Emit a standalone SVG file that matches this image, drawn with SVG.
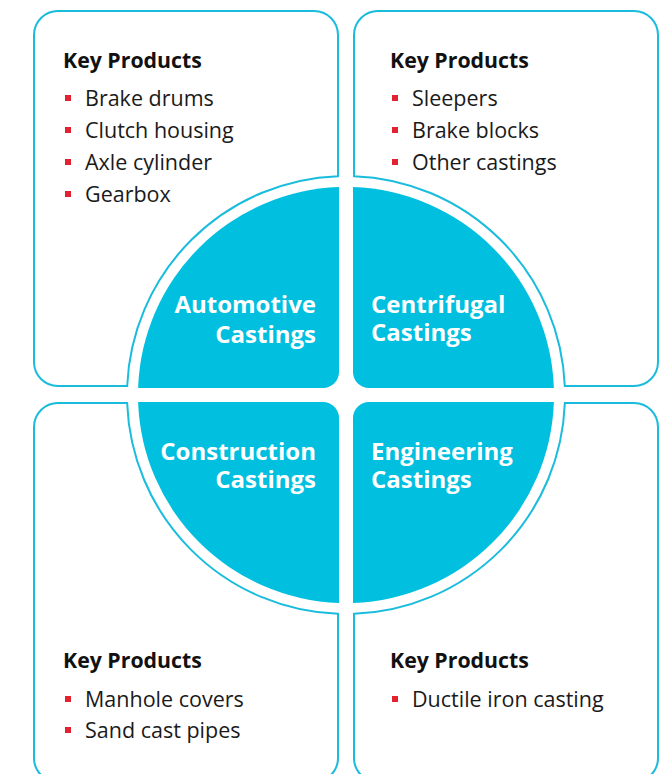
<svg xmlns="http://www.w3.org/2000/svg" width="665" height="774" viewBox="0 0 665 774">
<style>
.box{fill:#fff;stroke:#1ABCDD;stroke-width:2}
.q{fill:#00BFDF}
.hd{font-family:"Open Sans","Liberation Sans",sans-serif;font-weight:700;font-size:21.3px;fill:#111}
.it{font-family:"Open Sans","Liberation Sans",sans-serif;font-size:21.5px;fill:#1a1a1a}
.lb{font-family:"Open Sans","Liberation Sans",sans-serif;font-weight:700;font-size:24px;fill:#fff}
.bl{fill:#E2232F}
</style>
<rect width="665" height="774" fill="#fff"/>
<g id="box-automotive">
<path class="box" d="M58,11 H314 A24,24 0 0 1 338,35 V176.15 A219,219 0 0 0 127.19,386 H58 A24,24 0 0 1 34,362 V35 A24,24 0 0 1 58,11 Z"/>
<text class="hd" x="63" y="68">Key Products</text>
<rect class="bl" x="65" y="95" width="6" height="6"/><text class="it" x="85" y="106">Brake drums</text>
<rect class="bl" x="65" y="127" width="6" height="6"/><text class="it" x="85" y="138">Clutch housing</text>
<rect class="bl" x="65" y="159" width="6" height="6"/><text class="it" x="85" y="170">Axle cylinder</text>
<rect class="bl" x="65" y="191" width="6" height="6"/><text class="it" x="85" y="202">Gearbox</text>
</g>
<g id="box-centrifugal">
<path class="box" d="M378,11 H634 A24,24 0 0 1 658,35 V362 A24,24 0 0 1 634,386 H564.81 A219,219 0 0 0 354,176.15 V35 A24,24 0 0 1 378,11 Z"/>
<text class="hd" x="390" y="68">Key Products</text>
<rect class="bl" x="392" y="95" width="6" height="6"/><text class="it" x="412" y="106">Sleepers</text>
<rect class="bl" x="392" y="127" width="6" height="6"/><text class="it" x="412" y="138">Brake blocks</text>
<rect class="bl" x="392" y="159" width="6" height="6"/><text class="it" x="412" y="170">Other castings</text>
</g>
<g id="box-construction">
<path class="box" d="M58,403 H127.15 A219,219 0 0 0 338,613.85 V758 A24,24 0 0 1 314,782 H58 A24,24 0 0 1 34,758 V427 A24,24 0 0 1 58,403 Z"/>
<text class="hd" x="63" y="668">Key Products</text>
<rect class="bl" x="65" y="696" width="6" height="6"/><text class="it" x="85" y="707">Manhole covers</text>
<rect class="bl" x="65" y="727" width="6" height="6"/><text class="it" x="85" y="738">Sand cast pipes</text>
</g>
<g id="box-engineering">
<path class="box" d="M354,613.85 A219,219 0 0 0 564.85,403 H634 A24,24 0 0 1 658,427 V758 A24,24 0 0 1 634,782 H378 A24,24 0 0 1 354,758 Z"/>
<text class="hd" x="390" y="668">Key Products</text>
<rect class="bl" x="392" y="696" width="6" height="6"/><text class="it" x="412" y="707">Ductile iron casting</text>
</g>
<g id="q-automotive">
<path class="q" d="M339,187.12 V372 A16,16 0 0 1 323,388 H138.12 A208,208 0 0 1 339,187.12 Z"/>
<text class="lb" text-anchor="end" x="316" y="313">Automotive</text>
<text class="lb" text-anchor="end" x="316" y="343">Castings</text>
</g>
<g id="q-centrifugal">
<path class="q" d="M353,187.12 A208,208 0 0 1 553.88,388 H369 A16,16 0 0 1 353,372 Z"/>
<text class="lb" x="371" y="313">Centrifugal</text>
<text class="lb" x="371" y="341">Castings</text>
</g>
<g id="q-construction">
<path class="q" d="M138.12,402 H323 A16,16 0 0 1 339,418 V602.88 A208,208 0 0 1 138.12,402 Z"/>
<text class="lb" text-anchor="end" x="316" y="460">Construction</text>
<text class="lb" text-anchor="end" x="316" y="488">Castings</text>
</g>
<g id="q-engineering">
<path class="q" d="M369,402 H553.88 A208,208 0 0 1 353,602.88 V418 A16,16 0 0 1 369,402 Z"/>
<text class="lb" x="371" y="460">Engineering</text>
<text class="lb" x="371" y="488">Castings</text>
</g>
<g id="connectors"></g>
</svg>
